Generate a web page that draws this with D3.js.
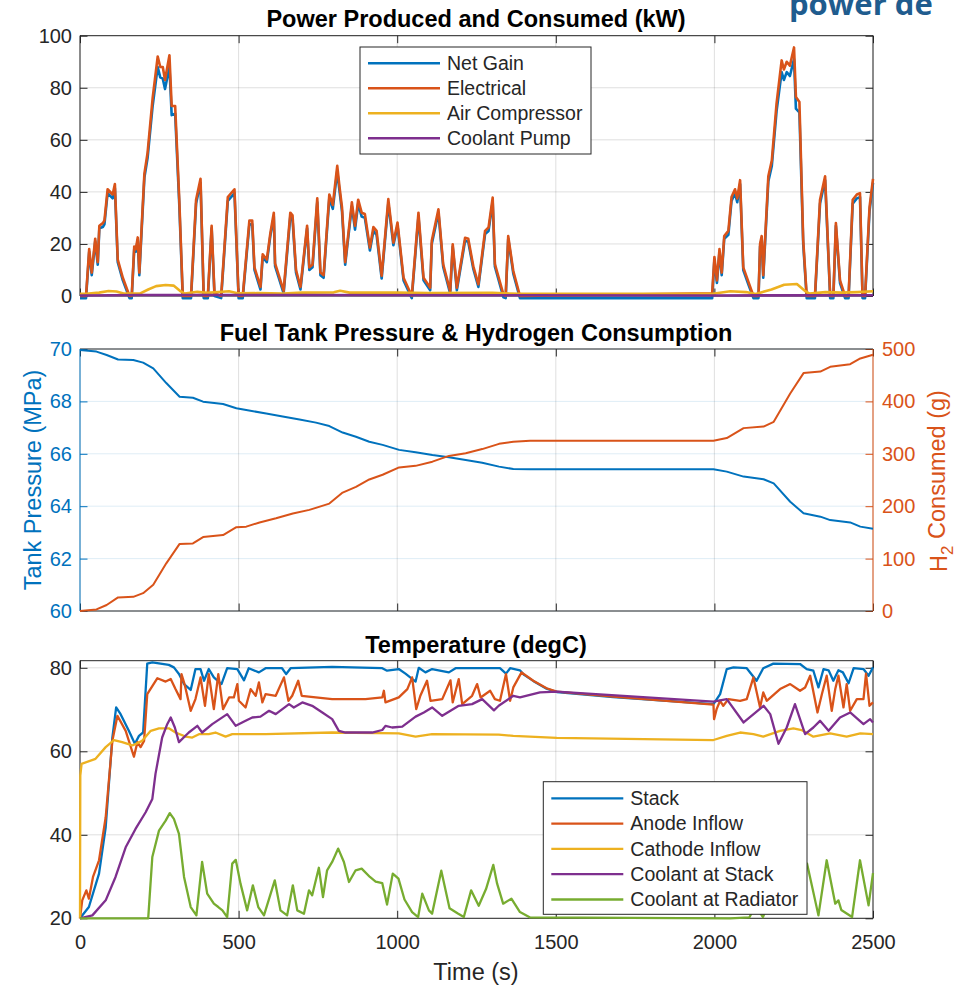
<!DOCTYPE html>
<html>
<head>
<meta charset="utf-8">
<script src="https://d3js.org/d3.v7.min.js"></script>
<style>
  body { margin: 0; background: #fff; }
  svg { display: block; font-family: "Liberation Sans", Arial, Helvetica, sans-serif; }
</style>
</head>
<body>
<svg id="chart" width="970" height="986"></svg>
<script>
// ---- data: [time (s), value] ----
const electricalKW = [[0,0],[19,0],[29,18],[37,9],[48,22],[56,13],[61,27],[72,28],[77,29],[87,41],[103,39],[110,43],[119,14],[135,7],[156,0],[163,0],[171,19],[176,18],[182,22.5],[187,9],[203,47],[213,55],[229,76],[245,92],[253,88],[261,88],[268,83],[282,92.5],[289,73],[300,73],[313,37],[324,0],[350,0],[366,37],[380,45],[390,0],[403,0],[415,27],[424,1],[445,0],[466,38],[487,41],[500,0],[513,0],[534,29],[543,29],[550,11],[569,3.5],[576,16],[589,14],[600,24],[611,32],[615,12.5],[642,2],[663,32],[670,31],[681,10],[695,3.5],[716,27],[723,11],[733,12],[748,37.5],[758,9],[768,8],[786,39],[797,35],[811,50],[818,42],[826,34],[836,13],[857,36],[867,27],[877,37],[888,32],[898,31.5],[914,18.6],[925,26.5],[935,25],[951,7.7],[972,37.2],[988,20.5],[1001,28.2],[1020,7],[1046,0],[1067,32],[1083,7],[1104,3.2],[1109,21.2],[1130,33.3],[1145,12.2],[1167,1.9],[1175,19.9],[1188,3.2],[1214,22.4],[1224,22],[1240,11.4],[1256,4.5],[1277,25],[1288,26.3],[1301,37.8],[1308,12.3],[1335,0.5],[1342,0],[1350,23],[1366,9.6],[1387,0],[1993,1],[2000,15],[2008,6],[2016,18],[2023,9],[2031,23],[2044,25],[2054,38],[2065,41],[2072,37.5],[2081,44.5],[2091,11],[2107,5.5],[2123,0],[2139,0],[2144,20],[2149,23],[2154,8],[2170,46],[2181,52],[2196,74],[2212,90.5],[2219,87],[2228,90],[2238,88.5],[2251,95.5],[2257,76.5],[2268,74.5],[2280,21.5],[2291,0],[2317,0],[2333,37],[2349,46],[2365,0],[2375,0],[2383,28],[2396,6],[2412,0],[2423,0],[2436,37],[2449,39],[2459,39.5],[2467,0],[2475,0],[2489,34],[2500,45]];

const netGainKW = [[0,-0.8],[19,-0.8],[29,17],[37,8],[48,21],[56,12],[61,26],[72,26.5],[77,27.5],[87,39.5],[103,37.5],[110,41.5],[119,13],[135,6],[156,-0.8],[163,-0.8],[171,18],[176,17],[182,21.5],[187,8],[203,45.5],[213,53],[229,73],[245,88],[253,84],[261,83.5],[268,79.5],[282,88],[289,69.5],[300,70],[313,35],[324,-0.8],[350,-0.8],[366,35.5],[380,43.5],[390,-0.8],[403,-0.8],[415,26],[424,0],[445,-0.8],[466,36.5],[487,39.5],[500,-0.8],[513,-0.8],[534,27.5],[543,27.5],[550,10],[569,2.5],[576,15],[589,13],[600,23],[611,30.5],[615,11.5],[642,1],[663,30.5],[670,29.5],[681,9],[695,2.5],[716,26],[723,10],[733,11],[748,36],[758,8],[768,7],[786,37.5],[797,33.5],[811,48],[818,40.5],[826,32.5],[836,12],[857,34.5],[867,25.5],[877,35.5],[888,30.5],[898,30],[914,17.5],[925,25],[935,23.5],[951,6.7],[972,35.7],[988,19.5],[1001,27],[1020,6],[1046,-0.8],[1067,30.5],[1083,6],[1104,2.2],[1109,20],[1130,32],[1145,11.2],[1167,1],[1175,18.9],[1188,2.2],[1214,21.2],[1224,20.8],[1240,10.4],[1256,3.5],[1277,23.8],[1288,25],[1301,36.3],[1308,11.3],[1335,-0.5],[1342,-0.8],[1350,22],[1366,8.6],[1387,-0.8],[1993,-0.8],[2000,14],[2008,5],[2016,17],[2023,8],[2031,22],[2044,23.5],[2054,36.5],[2065,39.5],[2072,36],[2081,43],[2091,10],[2107,4.5],[2123,-0.8],[2139,-0.8],[2144,19],[2149,22],[2154,7],[2170,44],[2181,50],[2196,71],[2212,86],[2219,83],[2228,86],[2238,84.5],[2251,91],[2257,72],[2268,70.5],[2280,20],[2291,-0.8],[2317,-0.8],[2333,35.5],[2349,44.5],[2365,-0.8],[2375,-0.8],[2383,27],[2396,5],[2412,-0.8],[2423,-0.8],[2436,35.5],[2449,37.5],[2459,38],[2467,-0.8],[2475,-0.8],[2489,32.5],[2500,43.5]];

const airCompressorKW = [[0,0.8],[20,0.8],[60,1.3],[90,1.9],[115,1.7],[140,0.9],[190,1.0],[215,2.5],[240,3.8],[270,4.2],[295,4.0],[315,2.0],[330,0.9],[370,1.6],[400,1.2],[470,1.8],[500,1.0],[560,1.1],[640,0.9],[700,1.3],[800,1.4],[820,2.0],[850,1.3],[1000,1.3],[1100,1.1],[1300,1.2],[1390,0.8],[1990,0.8],[2050,1.8],[2100,1.5],[2130,0.8],[2180,2.5],[2220,4.3],[2260,4.6],[2285,2.0],[2300,0.9],[2350,1.5],[2400,1.3],[2450,1.5],[2500,1.8]];

const coolantPumpKW = [[0,0.2],[200,0.4],[300,0.4],[1390,0.3],[1990,0.2],[2500,0.3]];

const tankPressureMPa = [[0,69.96],[52,69.9],[84,69.77],[120,69.6],[168,69.58],[199,69.48],[231,69.26],[272,68.7],[314,68.18],[356,68.14],[388,67.99],[451,67.9],[493,67.74],[524,67.67],[587,67.54],[639,67.42],[692,67.31],[744,67.19],[786,67.06],[828,66.81],[870,66.65],[912,66.46],[954,66.34],[1006,66.15],[1058,66.06],[1111,65.95],[1163,65.87],[1216,65.76],[1268,65.66],[1321,65.51],[1366,65.42],[1419,65.41],[1997,65.41],[2039,65.32],[2092,65.13],[2155,65.03],[2187,64.87],[2239,64.17],[2281,63.73],[2334,63.6],[2365,63.47],[2428,63.38],[2460,63.22],[2500,63.14]];

const h2ConsumedG = [[0,0],[52,3],[84,11.5],[120,26],[168,27],[199,34],[231,50],[272,91],[314,128],[356,129],[388,141],[451,145],[493,160],[524,161],[566,169],[618,177],[671,186],[723,193],[786,205],[828,226],[870,237],[912,251],[954,260],[1006,274],[1058,277],[1111,285],[1163,296],[1216,301],[1268,309],[1321,319],[1366,323],[1419,325],[1997,325],[2039,330],[2092,349],[2155,352],[2187,361],[2239,415],[2281,454],[2334,457],[2365,466],[2428,471],[2460,482],[2500,489]];

const stackC = [[0,20],[28,22.7],[60,30.7],[81,41.8],[102,63.3],[114,70.5],[128,68.9],[154,64.9],[173,61.8],[186,63.7],[199,64.5],[212,81],[228,81.3],[280,80.7],[296,80.1],[312,78.5],[328,76.1],[349,74.7],[364,79.7],[380,79.7],[391,76.9],[406,79.7],[422,77.7],[446,76.1],[464,79.9],[496,79.7],[517,77],[532,79.9],[564,78.9],[585,79.9],[637,79.9],[650,78.5],[664,79.9],[795,80.2],[953,79.9],[968,79.3],[1005,79.7],[1026,78.6],[1058,76.7],[1068,80],[1089,78.9],[1110,79.7],[1163,78.9],[1184,79.9],[1324,79.9],[1343,78.6],[1356,79.9],[1387,79.4],[1400,78.3],[1430,76.8],[1471,75],[1503,74.2],[1681,73],[1997,71.3],[2018,73.7],[2039,79.7],[2060,80.1],[2102,79.9],[2133,76.9],[2154,79.9],[2186,81],[2270,80.9],[2291,79.7],[2312,79.3],[2328,75.3],[2344,79.7],[2360,79.4],[2375,76.9],[2391,79.4],[2405,78.9],[2423,76.3],[2439,79.9],[2470,79.7],[2486,78.1],[2500,80.1]];

const anodeInflowC = [[0,20],[7,24.3],[20,26.7],[28,24.7],[41,29.9],[60,33.9],[81,44.2],[102,62.5],[118,68.5],[144,64.9],[170,58.7],[181,62.2],[191,61],[202,62.5],[212,73.7],[244,77.5],[270,76.7],[286,77.3],[301,74.9],[317,72.5],[320,78.5],[330,76],[349,69.7],[364,72.5],[380,77.7],[394,70.9],[406,78.5],[422,70.1],[436,78.5],[451,70.1],[470,72.9],[485,72.9],[496,76.1],[501,72.1],[522,70.5],[538,74.9],[554,73.3],[564,76.5],[575,71.7],[585,73.7],[617,73.3],[643,77.7],[657,72.1],[669,73.3],[688,76.9],[699,73.3],[743,72.9],[795,72.5],[900,72.5],[953,72.9],[958,74.5],[963,71.7],[1005,72.9],[1032,74.9],[1047,77.7],[1060,70.1],[1073,73.3],[1094,76.9],[1105,72.1],[1142,72.5],[1168,77],[1175,71.7],[1194,77.3],[1205,71.3],[1236,73.3],[1252,76.1],[1263,72.9],[1293,74.5],[1308,72.5],[1324,72.1],[1343,78.5],[1356,72.1],[1366,75.3],[1392,78.9],[1429,76.9],[1471,75.1],[1503,74.3],[1681,73.1],[1997,71.2],[1999,67.7],[2007,70.1],[2018,72.1],[2028,70.9],[2044,72.5],[2081,72.1],[2102,72.5],[2123,77.7],[2144,70.5],[2154,74.1],[2165,72.1],[2207,74.9],[2239,76.1],[2270,74.5],[2286,75.3],[2302,78.1],[2325,69.3],[2339,73.7],[2354,78.1],[2370,69.7],[2381,74.9],[2391,78.1],[2407,70.5],[2417,76.1],[2428,69.7],[2449,72.5],[2470,72.5],[2478,78.6],[2489,70.9],[2500,71.7]];

const cathodeInflowC = [[0,20],[1,54.2],[5,57],[49,58.2],[81,61],[107,62.7],[133,62.2],[165,61.4],[196,62.5],[223,64.9],[249,65.5],[280,65.5],[301,64.5],[333,63.5],[354,63.3],[375,64.1],[406,64.1],[427,64.5],[459,63.5],[480,64.1],[585,64.1],[795,64.5],[1005,64.3],[1058,63.5],[1110,64.1],[1320,64],[1366,63.7],[1503,63.2],[1997,62.7],[2039,63.7],[2081,64.5],[2123,64.1],[2154,63.5],[2207,64.9],[2249,65.5],[2275,65.1],[2312,63.5],[2365,64.3],[2417,63.5],[2460,64.3],[2500,64.1]];

const coolantStackC = [[0,20],[39,20.7],[81,24.3],[112,29.9],[144,37],[175,41.4],[207,45.4],[228,48.6],[238,54.6],[259,63.3],[275,66.5],[286,68.1],[299,65.7],[312,62.2],[343,64.5],[370,66.1],[385,64.5],[417,66.5],[464,68.9],[491,66.1],[522,67.3],[543,68.1],[569,68.3],[596,69.7],[617,68.9],[659,71.3],[674,70.5],[701,71.7],[732,70.9],[764,69.3],[795,67.7],[816,64.9],[837,64.5],[879,64.5],[921,64.5],[953,65.1],[963,66.1],[984,65.7],[1016,65.9],[1058,68.3],[1084,69.3],[1110,70.5],[1142,68.5],[1194,70.9],[1236,71.3],[1268,72.5],[1305,69.8],[1320,70.9],[1366,73.3],[1387,72.9],[1450,74.1],[1503,74.3],[1997,71.9],[2039,72.5],[2092,66.9],[2155,70.9],[2176,68.9],[2202,61.8],[2228,65.7],[2254,71.3],[2286,64.1],[2312,65.7],[2333,67.3],[2360,64.9],[2396,68.1],[2428,69.3],[2470,66.5],[2491,67.7],[2500,66.9]];

const coolantRadiatorC = [[0,20],[215,20],[228,34.7],[249,41],[270,43.4],[283,45.2],[296,43.8],[312,40.2],[328,29.9],[349,22.7],[367,20.7],[385,33.5],[401,25.9],[422,23.5],[436,22.7],[449,21.9],[464,20.3],[480,33.1],[491,34],[506,28.3],[527,21.9],[545,27.9],[562,22.7],[580,20.7],[614,29.1],[632,21.9],[653,20.7],[671,27.9],[685,21.9],[706,21.1],[722,26.7],[732,25.5],[753,32.1],[766,25.1],[779,31.5],[795,33.5],[814,36.7],[832,33.5],[848,28.7],[869,31.5],[888,31.9],[914,29.9],[932,28.8],[953,28.4],[968,23.3],[986,30.7],[1004,29.5],[1023,24.5],[1047,21.5],[1066,20.3],[1079,25.9],[1100,21.9],[1110,21.1],[1139,31.4],[1165,22.4],[1190,21.2],[1210,20.3],[1233,26.7],[1257,23],[1280,27],[1303,32.8],[1315,28.3],[1334,23.5],[1360,24.7],[1387,21.5],[1419,20.2],[2050,20],[2110,20.2],[2130,23],[2153,20.3],[2180,25],[2210,29],[2240,24],[2270,28],[2292,33.1],[2328,20.7],[2354,33.9],[2381,23.5],[2391,24.3],[2400,22],[2434,20.3],[2459,33.9],[2486,23.1],[2500,30.8]];

const timeTicks = [0, 500, 1000, 1500, 2000, 2500];
const powerTicks = [0, 20, 40, 60, 80, 100];
const pressureTicks = [60, 62, 64, 66, 68, 70];
const h2Ticks = [0, 100, 200, 300, 400, 500];
const tempTicks = [20, 40, 60, 80];

const powerLabels = ['Net Gain', 'Electrical', 'Air Compressor', 'Coolant Pump'];
const tempLabels = ['Stack', 'Anode Inflow', 'Cathode Inflow', 'Coolant at Stack', 'Coolant at Radiator'];

// ---- drawing ----
const svg = d3.select('#chart');
const ink = '#262626';
const colors = ['#0072BD', '#D95319', '#EDB120', '#7E2F8E', '#77AC30'];
const tickLen = 7.5;

const x = d3.scaleLinear().domain([0, 2500]).range([80, 873]);
const yPower = d3.scaleLinear().domain([0, 100]).range([296, 35.7]);
const yTank = d3.scaleLinear().domain([60, 70]).range([611, 349]);
const yH2 = d3.scaleLinear().domain([0, 500]).range([611, 349]);
const yTemp = d3.scaleLinear().domain([20, 81.7]).range([918.3, 660.7]);

function styleAxis(sel, color) {
  sel.select('.domain').remove();
  sel.selectAll('line').attr('stroke', color);
  sel.selectAll('text').attr('fill', color).style('font-size', '20px')
    .style('font-family', '"Liberation Sans", Arial, sans-serif');
}

function frame(y, yTicks, opt) {
  const top = y.range()[1], bottom = y.range()[0];
  const g = svg.append('g');

  // grid
  g.append('g').selectAll('line').data(timeTicks).join('line')
    .attr('x1', d => x(d)).attr('x2', d => x(d))
    .attr('y1', top).attr('y2', bottom)
    .attr('stroke', 'rgba(38,38,38,0.15)');
  g.append('g').selectAll('line').data(yTicks).join('line')
    .attr('x1', x.range()[0]).attr('x2', x.range()[1])
    .attr('y1', d => y(d)).attr('y2', d => y(d))
    .attr('stroke', opt.hGrid || 'rgba(38,38,38,0.15)');

  // x ticks top and bottom (inward)
  const xb = g.append('g').attr('transform', `translate(0,${bottom})`)
    .call(d3.axisBottom(x).tickValues(timeTicks).tickSize(-tickLen).tickPadding(17)
      .tickFormat(opt.xLabels ? d3.format('d') : ''));
  styleAxis(xb, ink);
  const xt = g.append('g').attr('transform', `translate(0,${top})`)
    .call(d3.axisTop(x).tickValues(timeTicks).tickSize(-tickLen).tickFormat(''));
  styleAxis(xt, ink);

  // y ticks left and right
  const yl = g.append('g').attr('transform', `translate(${x.range()[0]},0)`)
    .call(d3.axisLeft(y).tickValues(yTicks).tickSize(-tickLen).tickPadding(8));
  styleAxis(yl, opt.leftColor || ink);
  const yr2 = opt.right || y;
  const yr = g.append('g').attr('transform', `translate(${x.range()[1]},0)`)
    .call(d3.axisRight(yr2).tickValues(opt.rightTicks || yTicks).tickSize(-tickLen).tickPadding(9)
      .tickFormat(opt.right ? d3.format('d') : ''));
  styleAxis(yr, opt.rightColor || ink);

  // box
  const bx = g.append('g').attr('fill', 'none').attr('stroke-width', 1);
  bx.append('line').attr('x1', 80).attr('x2', 873).attr('y1', top).attr('y2', top).attr('stroke', ink);
  bx.append('line').attr('x1', 80).attr('x2', 873).attr('y1', bottom).attr('y2', bottom).attr('stroke', ink);
  bx.append('line').attr('x1', 80).attr('x2', 80).attr('y1', top).attr('y2', bottom).attr('stroke', opt.leftColor || ink);
  bx.append('line').attr('x1', 873).attr('x2', 873).attr('y1', top).attr('y2', bottom).attr('stroke', opt.rightColor || ink);

  // title
  svg.append('text').attr('x', 476).attr('y', opt.titleY).attr('text-anchor', 'middle')
    .attr('fill', '#000').style('font-size', '23.5px').style('font-weight', 'bold')
    .text(opt.title);
}

function series(data, y, color, width) {
  svg.append('path').datum(data)
    .attr('fill', 'none').attr('stroke', color).attr('stroke-width', width)
    .attr('stroke-linejoin', 'round')
    .attr('d', d3.line().x(d => x(d[0])).y(d => y(d[1])));
}

function legend(bx, by, bw, bh, labels, firstY, step, width) {
  const g = svg.append('g');
  g.append('rect').attr('x', bx).attr('y', by).attr('width', bw).attr('height', bh)
    .attr('fill', '#fff').attr('stroke', ink).attr('stroke-width', 1);
  labels.forEach((lab, i) => {
    const yy = firstY + i * step;
    g.append('line').attr('x1', bx + 8).attr('x2', bx + 80).attr('y1', yy).attr('y2', yy)
      .attr('stroke', colors[i]).attr('stroke-width', width);
    g.append('text').attr('x', bx + 87).attr('y', yy).attr('dy', '0.35em')
      .attr('fill', ink).style('font-size', '19.5px').text(lab);
  });
}

// panel 1: power
frame(yPower, powerTicks, { title: 'Power Produced and Consumed (kW)', titleY: 27 });
series(netGainKW, yPower, colors[0], 2.6);
series(electricalKW, yPower, colors[1], 2.6);
series(airCompressorKW, yPower, colors[2], 2.6);
series(coolantPumpKW, yPower, colors[3], 2.6);
legend(360, 47, 231, 107, powerLabels, 63.3, 25, 2.6);

// panel 2: tank pressure and hydrogen
frame(yTank, pressureTicks, {
  title: 'Fuel Tank Pressure & Hydrogen Consumption', titleY: 341,
  leftColor: colors[0], rightColor: colors[1], right: yH2, rightTicks: h2Ticks,
  hGrid: 'rgba(0,114,189,0.13)'
});
series(tankPressureMPa, yTank, colors[0], 2);
series(h2ConsumedG, yH2, colors[1], 2);

svg.append('text').attr('transform', 'translate(41,480) rotate(-90)')
  .attr('text-anchor', 'middle').attr('fill', colors[0]).style('font-size', '23.5px')
  .text('Tank Pressure (MPa)');
const h2Label = svg.append('text').attr('transform', 'translate(947,481) rotate(-90)')
  .attr('text-anchor', 'middle').attr('fill', colors[1]).style('font-size', '23.5px');
h2Label.append('tspan').text('H');
h2Label.append('tspan').attr('dy', '0.35em').style('font-size', '17px').text('2');
h2Label.append('tspan').attr('dy', '-0.35em').text(' Consumed (g)');

// panel 3: temperature
frame(yTemp, tempTicks, { title: 'Temperature (degC)', titleY: 653, xLabels: true });
series(stackC, yTemp, colors[0], 2.3);
series(anodeInflowC, yTemp, colors[1], 2.3);
series(cathodeInflowC, yTemp, colors[2], 2.3);
series(coolantStackC, yTemp, colors[3], 2.3);
series(coolantRadiatorC, yTemp, colors[4], 2.3);
legend(543.3, 781.7, 263.7, 132.6, tempLabels, 798.3, 25.3, 2.3);

svg.append('text').attr('x', 476).attr('y', 980).attr('text-anchor', 'middle')
  .attr('fill', ink).style('font-size', '23.5px').text('Time (s)');

// slide heading fragment at top right
svg.append('text').attr('x', 789).attr('y', 15)
  .attr('fill', '#1f5c8e').style('font-size', '31px').style('font-weight', 'bold')
  .style('font-family', '"Open Sans", "Noto Sans", sans-serif')
  .text('power de');
</script>
</body>
</html>
